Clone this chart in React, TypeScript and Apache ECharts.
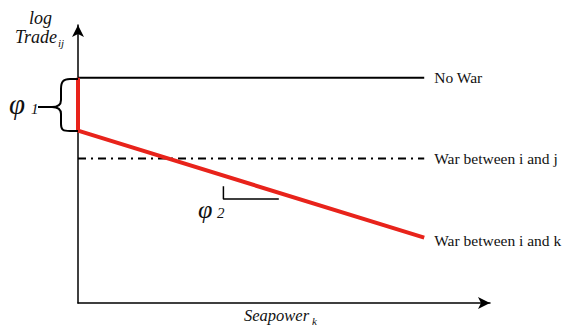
import React, { useEffect, useRef } from "react";
import * as echarts from "echarts";

// Data (in axis units)
const noWar: [number, number][] = [[0, 8.1], [10, 8.1]];
const warIJ: [number, number][] = [[0, 5.2], [10, 5.2]];
const warIK: [number, number][] = [[0, 8.1], [0, 6.2], [10, 2.35]];
const slopeMarker: [number, number][] = [[4.2, 4.2], [4.2, 3.74], [5.8, 3.74]];
const seriesLabels = ["No War", "War between i and j", "War between i and k"];

const SERIF = "Liberation Serif";

const braceD =
  "M78,79 L70,79 C63,79 61,82 61,89 L61,100 C61,105 58,107 52,107 L38,107 M52,107 C58,107 61,109 61,114 L61,124 C61,130 63,131 70,131 L78,131";

let registered = false;

function txt(text: string, left: number, top: number, size: number, italic = true) {
  return {
    type: "text",
    left,
    top,
    style: {
      text,
      fontFamily: SERIF,
      fontStyle: italic ? "italic" : "normal",
      fontSize: size,
      fill: "#111",
    },
  };
}

export default function App() {
  const ref = useRef<HTMLDivElement>(null);
  useEffect(() => {
    if (!ref.current) return;
    if (!registered) {
      echarts.graphic.registerShape("brace", echarts.graphic.extendPath(braceD, {}) as any);
      registered = true;
    }
    const chart = echarts.init(ref.current, undefined, { renderer: "svg" });
    const labelStyle = {
      show: true,
      distance: 10,
      fontFamily: SERIF,
      fontSize: 15.5,
      color: "#111",
    };
    chart.setOption({
      animation: false,
      backgroundColor: "#fff",
      textStyle: { fontFamily: SERIF },
      grid: { left: 78, top: 25, width: 412, height: 278 },
      xAxis: {
        type: "value",
        min: 0,
        max: 11.9,
        axisLine: {
          show: true,
          onZero: false,
          symbol: ["none", "arrow"],
          symbolSize: [9, 12],
          lineStyle: { color: "#000", width: 1.5 },
        },
        axisTick: { show: false },
        axisLabel: { show: false },
        splitLine: { show: false },
      },
      yAxis: {
        type: "value",
        min: 0,
        max: 10,
        axisLine: {
          show: true,
          onZero: false,
          symbol: ["none", "arrow"],
          symbolSize: [9, 12],
          lineStyle: { color: "#000", width: 1.5 },
        },
        axisTick: { show: false },
        axisLabel: { show: false },
        splitLine: { show: false },
      },
      series: [
        {
          type: "line",
          data: noWar,
          symbol: "none",
          lineStyle: { color: "#000", width: 2 },
          endLabel: { ...labelStyle, formatter: seriesLabels[0] },
          z: 3,
        },
        {
          type: "line",
          data: warIJ,
          symbol: "none",
          lineStyle: { color: "#000", width: 2, type: [8, 5, 2, 5] },
          endLabel: { ...labelStyle, formatter: seriesLabels[1] },
          z: 3,
        },
        {
          type: "line",
          data: warIK,
          symbol: "none",
          lineStyle: { color: "#e8231b", width: 4, cap: "butt" },
          endLabel: { ...labelStyle, formatter: seriesLabels[2], offset: [0, 3] },
          z: 4,
        },
        {
          type: "line",
          data: slopeMarker,
          symbol: "none",
          lineStyle: { color: "#000", width: 1.5 },
          z: 3,
        },
      ],
      graphic: [
        {
          type: "brace",
          style: { stroke: "#000", fill: "none", lineWidth: 2 },
          z: 10,
        },
        txt("log", 29, 9, 18),
        txt("Trade", 15, 28, 18),
        txt("ij", 58, 37, 11),
        txt("φ", 9, 89, 29),
        txt("1", 31, 101, 15),
        txt("φ", 198, 196, 26),
        txt("2", 217, 205, 15),
        txt("Seapower", 244, 307, 16.5),
        txt("k", 312, 315, 11),
      ],
    });
    return () => chart.dispose();
  }, []);
  return (
    <div
      ref={ref}
      style={{ position: "fixed", left: 0, top: 0, width: 581, height: 328 }}
    />
  );
}
